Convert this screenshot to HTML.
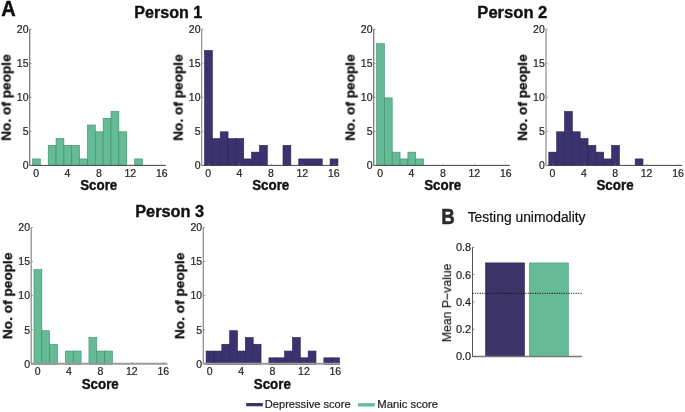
<!DOCTYPE html>
<html><head><meta charset="utf-8"><style>
html,body{margin:0;padding:0;background:#fff;}
body{width:685px;height:412px;overflow:hidden;}
svg{display:block;font-family:"Liberation Sans",sans-serif;-webkit-font-smoothing:antialiased;}
text{will-change:transform;}
</style></head><body>
<svg width="685" height="412" viewBox="0 0 685 412">
<rect width="685" height="412" fill="#fff"/>
<rect x="32.50" y="158.92" width="7.85" height="6.48" fill="#64bb95" stroke="#3f8c69" stroke-width="0.6"/>
<rect x="48.20" y="145.36" width="7.85" height="20.04" fill="#64bb95" stroke="#3f8c69" stroke-width="0.6"/>
<rect x="56.05" y="138.58" width="7.85" height="26.82" fill="#64bb95" stroke="#3f8c69" stroke-width="0.6"/>
<rect x="63.90" y="145.36" width="7.85" height="20.04" fill="#64bb95" stroke="#3f8c69" stroke-width="0.6"/>
<rect x="71.75" y="145.36" width="7.85" height="20.04" fill="#64bb95" stroke="#3f8c69" stroke-width="0.6"/>
<rect x="79.60" y="158.92" width="7.85" height="6.48" fill="#64bb95" stroke="#3f8c69" stroke-width="0.6"/>
<rect x="87.45" y="125.02" width="7.85" height="40.38" fill="#64bb95" stroke="#3f8c69" stroke-width="0.6"/>
<rect x="95.30" y="131.80" width="7.85" height="33.60" fill="#64bb95" stroke="#3f8c69" stroke-width="0.6"/>
<rect x="103.15" y="118.24" width="7.85" height="47.16" fill="#64bb95" stroke="#3f8c69" stroke-width="0.6"/>
<rect x="111.00" y="111.46" width="7.85" height="53.94" fill="#64bb95" stroke="#3f8c69" stroke-width="0.6"/>
<rect x="118.85" y="131.80" width="7.85" height="33.60" fill="#64bb95" stroke="#3f8c69" stroke-width="0.6"/>
<rect x="134.55" y="158.92" width="7.85" height="6.48" fill="#64bb95" stroke="#3f8c69" stroke-width="0.6"/>
<line x1="29.70" y1="29.20" x2="29.70" y2="165.40" stroke="#707070" stroke-width="1.2"/>
<line x1="29.70" y1="165.40" x2="165.95" y2="165.40" stroke="#444" stroke-width="1.0"/>
<line x1="29.70" y1="165.40" x2="31.50" y2="165.40" stroke="#707070" stroke-width="0.8"/>
<text x="28.50" y="169.20" font-size="10.50" font-weight="normal" text-anchor="end" fill="#222" stroke="#222" stroke-width="0.2" >0</text>
<line x1="29.70" y1="131.35" x2="31.50" y2="131.35" stroke="#707070" stroke-width="0.8"/>
<text x="28.50" y="135.15" font-size="10.50" font-weight="normal" text-anchor="end" fill="#222" stroke="#222" stroke-width="0.2" >5</text>
<line x1="29.70" y1="97.30" x2="31.50" y2="97.30" stroke="#707070" stroke-width="0.8"/>
<text x="28.50" y="101.10" font-size="10.50" font-weight="normal" text-anchor="end" fill="#222" stroke="#222" stroke-width="0.2" >10</text>
<line x1="29.70" y1="63.25" x2="31.50" y2="63.25" stroke="#707070" stroke-width="0.8"/>
<text x="28.50" y="67.05" font-size="10.50" font-weight="normal" text-anchor="end" fill="#222" stroke="#222" stroke-width="0.2" >15</text>
<line x1="29.70" y1="29.20" x2="31.50" y2="29.20" stroke="#707070" stroke-width="0.8"/>
<text x="28.50" y="33.00" font-size="10.50" font-weight="normal" text-anchor="end" fill="#222" stroke="#222" stroke-width="0.2" >20</text>
<line x1="36.42" y1="165.40" x2="36.42" y2="163.80" stroke="#888" stroke-width="0.6"/>
<text x="36.12" y="176.80" font-size="10.50" font-weight="normal" text-anchor="middle" fill="#222" stroke="#222" stroke-width="0.2" >0</text>
<line x1="67.82" y1="165.40" x2="67.82" y2="163.80" stroke="#888" stroke-width="0.6"/>
<text x="67.52" y="176.80" font-size="10.50" font-weight="normal" text-anchor="middle" fill="#222" stroke="#222" stroke-width="0.2" >4</text>
<line x1="99.22" y1="165.40" x2="99.22" y2="163.80" stroke="#888" stroke-width="0.6"/>
<text x="98.92" y="176.80" font-size="10.50" font-weight="normal" text-anchor="middle" fill="#222" stroke="#222" stroke-width="0.2" >8</text>
<line x1="130.62" y1="165.40" x2="130.62" y2="163.80" stroke="#888" stroke-width="0.6"/>
<text x="130.32" y="176.80" font-size="10.50" font-weight="normal" text-anchor="middle" fill="#222" stroke="#222" stroke-width="0.2" >12</text>
<line x1="162.03" y1="165.40" x2="162.03" y2="163.80" stroke="#888" stroke-width="0.6"/>
<text x="161.72" y="176.80" font-size="10.50" font-weight="normal" text-anchor="middle" fill="#222" stroke="#222" stroke-width="0.2" >16</text>
<text x="80.17" y="190.20" font-size="13.76" font-weight="bold" fill="#111" textLength="37.11" lengthAdjust="spacingAndGlyphs" stroke="#111" stroke-width="0.35">Score</text>
<text x="0" y="0" font-size="13.60" font-weight="bold" fill="#111" stroke="#111" stroke-width="0.3" textLength="86.48" lengthAdjust="spacingAndGlyphs" transform="translate(10.60,140.77) rotate(-90)">No. of people</text>
<rect x="204.50" y="50.44" width="7.85" height="114.96" fill="#3b3370" stroke="#2a2452" stroke-width="0.6"/>
<rect x="212.35" y="138.58" width="7.85" height="26.82" fill="#3b3370" stroke="#2a2452" stroke-width="0.6"/>
<rect x="220.20" y="131.80" width="7.85" height="33.60" fill="#3b3370" stroke="#2a2452" stroke-width="0.6"/>
<rect x="228.05" y="138.58" width="7.85" height="26.82" fill="#3b3370" stroke="#2a2452" stroke-width="0.6"/>
<rect x="235.90" y="138.58" width="7.85" height="26.82" fill="#3b3370" stroke="#2a2452" stroke-width="0.6"/>
<rect x="243.75" y="158.92" width="7.85" height="6.48" fill="#3b3370" stroke="#2a2452" stroke-width="0.6"/>
<rect x="251.60" y="152.14" width="7.85" height="13.26" fill="#3b3370" stroke="#2a2452" stroke-width="0.6"/>
<rect x="259.45" y="145.36" width="7.85" height="20.04" fill="#3b3370" stroke="#2a2452" stroke-width="0.6"/>
<rect x="283.00" y="145.36" width="7.85" height="20.04" fill="#3b3370" stroke="#2a2452" stroke-width="0.6"/>
<rect x="298.70" y="158.92" width="7.85" height="6.48" fill="#3b3370" stroke="#2a2452" stroke-width="0.6"/>
<rect x="306.55" y="158.92" width="7.85" height="6.48" fill="#3b3370" stroke="#2a2452" stroke-width="0.6"/>
<rect x="314.40" y="158.92" width="7.85" height="6.48" fill="#3b3370" stroke="#2a2452" stroke-width="0.6"/>
<rect x="330.10" y="158.92" width="7.85" height="6.48" fill="#3b3370" stroke="#2a2452" stroke-width="0.6"/>
<line x1="201.70" y1="29.20" x2="201.70" y2="165.40" stroke="#8a8a9a" stroke-width="1.2"/>
<line x1="201.70" y1="165.40" x2="337.95" y2="165.40" stroke="#444" stroke-width="1.0"/>
<line x1="201.70" y1="165.40" x2="203.50" y2="165.40" stroke="#8a8a9a" stroke-width="0.8"/>
<text x="200.50" y="169.20" font-size="10.50" font-weight="normal" text-anchor="end" fill="#222" stroke="#222" stroke-width="0.2" >0</text>
<line x1="201.70" y1="131.35" x2="203.50" y2="131.35" stroke="#8a8a9a" stroke-width="0.8"/>
<text x="200.50" y="135.15" font-size="10.50" font-weight="normal" text-anchor="end" fill="#222" stroke="#222" stroke-width="0.2" >5</text>
<line x1="201.70" y1="97.30" x2="203.50" y2="97.30" stroke="#8a8a9a" stroke-width="0.8"/>
<text x="200.50" y="101.10" font-size="10.50" font-weight="normal" text-anchor="end" fill="#222" stroke="#222" stroke-width="0.2" >10</text>
<line x1="201.70" y1="63.25" x2="203.50" y2="63.25" stroke="#8a8a9a" stroke-width="0.8"/>
<text x="200.50" y="67.05" font-size="10.50" font-weight="normal" text-anchor="end" fill="#222" stroke="#222" stroke-width="0.2" >15</text>
<line x1="201.70" y1="29.20" x2="203.50" y2="29.20" stroke="#8a8a9a" stroke-width="0.8"/>
<text x="200.50" y="33.00" font-size="10.50" font-weight="normal" text-anchor="end" fill="#222" stroke="#222" stroke-width="0.2" >20</text>
<line x1="208.43" y1="165.40" x2="208.43" y2="163.80" stroke="#888" stroke-width="0.6"/>
<text x="208.12" y="176.80" font-size="10.50" font-weight="normal" text-anchor="middle" fill="#222" stroke="#222" stroke-width="0.2" >0</text>
<line x1="239.82" y1="165.40" x2="239.82" y2="163.80" stroke="#888" stroke-width="0.6"/>
<text x="239.52" y="176.80" font-size="10.50" font-weight="normal" text-anchor="middle" fill="#222" stroke="#222" stroke-width="0.2" >4</text>
<line x1="271.23" y1="165.40" x2="271.23" y2="163.80" stroke="#888" stroke-width="0.6"/>
<text x="270.93" y="176.80" font-size="10.50" font-weight="normal" text-anchor="middle" fill="#222" stroke="#222" stroke-width="0.2" >8</text>
<line x1="302.62" y1="165.40" x2="302.62" y2="163.80" stroke="#888" stroke-width="0.6"/>
<text x="302.32" y="176.80" font-size="10.50" font-weight="normal" text-anchor="middle" fill="#222" stroke="#222" stroke-width="0.2" >12</text>
<line x1="334.02" y1="165.40" x2="334.02" y2="163.80" stroke="#888" stroke-width="0.6"/>
<text x="333.72" y="176.80" font-size="10.50" font-weight="normal" text-anchor="middle" fill="#222" stroke="#222" stroke-width="0.2" >16</text>
<text x="252.17" y="190.20" font-size="13.76" font-weight="bold" fill="#111" textLength="37.11" lengthAdjust="spacingAndGlyphs" stroke="#111" stroke-width="0.35">Score</text>
<text x="0" y="0" font-size="13.60" font-weight="bold" fill="#111" stroke="#111" stroke-width="0.3" textLength="86.48" lengthAdjust="spacingAndGlyphs" transform="translate(182.60,140.77) rotate(-90)">No. of people</text>
<rect x="376.50" y="43.66" width="7.85" height="121.74" fill="#64bb95" stroke="#3f8c69" stroke-width="0.6"/>
<rect x="384.35" y="97.90" width="7.85" height="67.50" fill="#64bb95" stroke="#3f8c69" stroke-width="0.6"/>
<rect x="392.20" y="152.14" width="7.85" height="13.26" fill="#64bb95" stroke="#3f8c69" stroke-width="0.6"/>
<rect x="400.05" y="158.92" width="7.85" height="6.48" fill="#64bb95" stroke="#3f8c69" stroke-width="0.6"/>
<rect x="407.90" y="152.14" width="7.85" height="13.26" fill="#64bb95" stroke="#3f8c69" stroke-width="0.6"/>
<rect x="415.75" y="158.92" width="7.85" height="6.48" fill="#64bb95" stroke="#3f8c69" stroke-width="0.6"/>
<line x1="373.70" y1="29.20" x2="373.70" y2="165.40" stroke="#707070" stroke-width="1.2"/>
<line x1="373.70" y1="165.40" x2="509.95" y2="165.40" stroke="#444" stroke-width="1.0"/>
<line x1="373.70" y1="165.40" x2="375.50" y2="165.40" stroke="#707070" stroke-width="0.8"/>
<text x="372.50" y="169.20" font-size="10.50" font-weight="normal" text-anchor="end" fill="#222" stroke="#222" stroke-width="0.2" >0</text>
<line x1="373.70" y1="131.35" x2="375.50" y2="131.35" stroke="#707070" stroke-width="0.8"/>
<text x="372.50" y="135.15" font-size="10.50" font-weight="normal" text-anchor="end" fill="#222" stroke="#222" stroke-width="0.2" >5</text>
<line x1="373.70" y1="97.30" x2="375.50" y2="97.30" stroke="#707070" stroke-width="0.8"/>
<text x="372.50" y="101.10" font-size="10.50" font-weight="normal" text-anchor="end" fill="#222" stroke="#222" stroke-width="0.2" >10</text>
<line x1="373.70" y1="63.25" x2="375.50" y2="63.25" stroke="#707070" stroke-width="0.8"/>
<text x="372.50" y="67.05" font-size="10.50" font-weight="normal" text-anchor="end" fill="#222" stroke="#222" stroke-width="0.2" >15</text>
<line x1="373.70" y1="29.20" x2="375.50" y2="29.20" stroke="#707070" stroke-width="0.8"/>
<text x="372.50" y="33.00" font-size="10.50" font-weight="normal" text-anchor="end" fill="#222" stroke="#222" stroke-width="0.2" >20</text>
<line x1="380.43" y1="165.40" x2="380.43" y2="163.80" stroke="#888" stroke-width="0.6"/>
<text x="380.12" y="176.80" font-size="10.50" font-weight="normal" text-anchor="middle" fill="#222" stroke="#222" stroke-width="0.2" >0</text>
<line x1="411.82" y1="165.40" x2="411.82" y2="163.80" stroke="#888" stroke-width="0.6"/>
<text x="411.52" y="176.80" font-size="10.50" font-weight="normal" text-anchor="middle" fill="#222" stroke="#222" stroke-width="0.2" >4</text>
<line x1="443.23" y1="165.40" x2="443.23" y2="163.80" stroke="#888" stroke-width="0.6"/>
<text x="442.93" y="176.80" font-size="10.50" font-weight="normal" text-anchor="middle" fill="#222" stroke="#222" stroke-width="0.2" >8</text>
<line x1="474.62" y1="165.40" x2="474.62" y2="163.80" stroke="#888" stroke-width="0.6"/>
<text x="474.32" y="176.80" font-size="10.50" font-weight="normal" text-anchor="middle" fill="#222" stroke="#222" stroke-width="0.2" >12</text>
<line x1="506.02" y1="165.40" x2="506.02" y2="163.80" stroke="#888" stroke-width="0.6"/>
<text x="505.72" y="176.80" font-size="10.50" font-weight="normal" text-anchor="middle" fill="#222" stroke="#222" stroke-width="0.2" >16</text>
<text x="424.17" y="190.20" font-size="13.76" font-weight="bold" fill="#111" textLength="37.11" lengthAdjust="spacingAndGlyphs" stroke="#111" stroke-width="0.35">Score</text>
<text x="0" y="0" font-size="13.60" font-weight="bold" fill="#111" stroke="#111" stroke-width="0.3" textLength="86.48" lengthAdjust="spacingAndGlyphs" transform="translate(354.60,140.77) rotate(-90)">No. of people</text>
<rect x="548.80" y="152.14" width="7.85" height="13.26" fill="#3b3370" stroke="#2a2452" stroke-width="0.6"/>
<rect x="556.65" y="131.80" width="7.85" height="33.60" fill="#3b3370" stroke="#2a2452" stroke-width="0.6"/>
<rect x="564.50" y="111.46" width="7.85" height="53.94" fill="#3b3370" stroke="#2a2452" stroke-width="0.6"/>
<rect x="572.35" y="131.80" width="7.85" height="33.60" fill="#3b3370" stroke="#2a2452" stroke-width="0.6"/>
<rect x="580.20" y="138.58" width="7.85" height="26.82" fill="#3b3370" stroke="#2a2452" stroke-width="0.6"/>
<rect x="588.05" y="145.36" width="7.85" height="20.04" fill="#3b3370" stroke="#2a2452" stroke-width="0.6"/>
<rect x="595.90" y="152.14" width="7.85" height="13.26" fill="#3b3370" stroke="#2a2452" stroke-width="0.6"/>
<rect x="603.75" y="158.92" width="7.85" height="6.48" fill="#3b3370" stroke="#2a2452" stroke-width="0.6"/>
<rect x="611.60" y="145.36" width="7.85" height="20.04" fill="#3b3370" stroke="#2a2452" stroke-width="0.6"/>
<rect x="635.15" y="158.92" width="7.85" height="6.48" fill="#3b3370" stroke="#2a2452" stroke-width="0.6"/>
<line x1="546.00" y1="29.20" x2="546.00" y2="165.40" stroke="#8a8a9a" stroke-width="1.2"/>
<line x1="546.00" y1="165.40" x2="682.25" y2="165.40" stroke="#444" stroke-width="1.0"/>
<line x1="546.00" y1="165.40" x2="547.80" y2="165.40" stroke="#8a8a9a" stroke-width="0.8"/>
<text x="544.80" y="169.20" font-size="10.50" font-weight="normal" text-anchor="end" fill="#222" stroke="#222" stroke-width="0.2" >0</text>
<line x1="546.00" y1="131.35" x2="547.80" y2="131.35" stroke="#8a8a9a" stroke-width="0.8"/>
<text x="544.80" y="135.15" font-size="10.50" font-weight="normal" text-anchor="end" fill="#222" stroke="#222" stroke-width="0.2" >5</text>
<line x1="546.00" y1="97.30" x2="547.80" y2="97.30" stroke="#8a8a9a" stroke-width="0.8"/>
<text x="544.80" y="101.10" font-size="10.50" font-weight="normal" text-anchor="end" fill="#222" stroke="#222" stroke-width="0.2" >10</text>
<line x1="546.00" y1="63.25" x2="547.80" y2="63.25" stroke="#8a8a9a" stroke-width="0.8"/>
<text x="544.80" y="67.05" font-size="10.50" font-weight="normal" text-anchor="end" fill="#222" stroke="#222" stroke-width="0.2" >15</text>
<line x1="546.00" y1="29.20" x2="547.80" y2="29.20" stroke="#8a8a9a" stroke-width="0.8"/>
<text x="544.80" y="33.00" font-size="10.50" font-weight="normal" text-anchor="end" fill="#222" stroke="#222" stroke-width="0.2" >20</text>
<line x1="552.72" y1="165.40" x2="552.72" y2="163.80" stroke="#888" stroke-width="0.6"/>
<text x="552.42" y="176.80" font-size="10.50" font-weight="normal" text-anchor="middle" fill="#222" stroke="#222" stroke-width="0.2" >0</text>
<line x1="584.12" y1="165.40" x2="584.12" y2="163.80" stroke="#888" stroke-width="0.6"/>
<text x="583.83" y="176.80" font-size="10.50" font-weight="normal" text-anchor="middle" fill="#222" stroke="#222" stroke-width="0.2" >4</text>
<line x1="615.52" y1="165.40" x2="615.52" y2="163.80" stroke="#888" stroke-width="0.6"/>
<text x="615.23" y="176.80" font-size="10.50" font-weight="normal" text-anchor="middle" fill="#222" stroke="#222" stroke-width="0.2" >8</text>
<line x1="646.92" y1="165.40" x2="646.92" y2="163.80" stroke="#888" stroke-width="0.6"/>
<text x="646.62" y="176.80" font-size="10.50" font-weight="normal" text-anchor="middle" fill="#222" stroke="#222" stroke-width="0.2" >12</text>
<line x1="678.32" y1="165.40" x2="678.32" y2="163.80" stroke="#888" stroke-width="0.6"/>
<text x="678.02" y="176.80" font-size="10.50" font-weight="normal" text-anchor="middle" fill="#222" stroke="#222" stroke-width="0.2" >16</text>
<text x="596.47" y="190.20" font-size="13.76" font-weight="bold" fill="#111" textLength="37.11" lengthAdjust="spacingAndGlyphs" stroke="#111" stroke-width="0.35">Score</text>
<text x="0" y="0" font-size="13.60" font-weight="bold" fill="#111" stroke="#111" stroke-width="0.3" textLength="86.48" lengthAdjust="spacingAndGlyphs" transform="translate(526.90,140.77) rotate(-90)">No. of people</text>
<rect x="34.00" y="269.68" width="7.85" height="94.62" fill="#64bb95" stroke="#3f8c69" stroke-width="0.6"/>
<rect x="41.85" y="330.70" width="7.85" height="33.60" fill="#64bb95" stroke="#3f8c69" stroke-width="0.6"/>
<rect x="49.70" y="344.26" width="7.85" height="20.04" fill="#64bb95" stroke="#3f8c69" stroke-width="0.6"/>
<rect x="65.40" y="351.04" width="7.85" height="13.26" fill="#64bb95" stroke="#3f8c69" stroke-width="0.6"/>
<rect x="73.25" y="351.04" width="7.85" height="13.26" fill="#64bb95" stroke="#3f8c69" stroke-width="0.6"/>
<rect x="88.95" y="337.48" width="7.85" height="26.82" fill="#64bb95" stroke="#3f8c69" stroke-width="0.6"/>
<rect x="96.80" y="351.04" width="7.85" height="13.26" fill="#64bb95" stroke="#3f8c69" stroke-width="0.6"/>
<rect x="104.65" y="351.04" width="7.85" height="13.26" fill="#64bb95" stroke="#3f8c69" stroke-width="0.6"/>
<line x1="31.20" y1="227.50" x2="31.20" y2="363.80" stroke="#888" stroke-width="1.2"/>
<line x1="31.20" y1="363.80" x2="167.45" y2="363.80" stroke="#9a9a9a" stroke-width="2.0"/>
<line x1="31.20" y1="363.80" x2="33.00" y2="363.80" stroke="#888" stroke-width="0.8"/>
<text x="30.00" y="367.60" font-size="10.50" font-weight="normal" text-anchor="end" fill="#222" stroke="#222" stroke-width="0.2" >0</text>
<line x1="31.20" y1="329.73" x2="33.00" y2="329.73" stroke="#888" stroke-width="0.8"/>
<text x="30.00" y="333.53" font-size="10.50" font-weight="normal" text-anchor="end" fill="#222" stroke="#222" stroke-width="0.2" >5</text>
<line x1="31.20" y1="295.65" x2="33.00" y2="295.65" stroke="#888" stroke-width="0.8"/>
<text x="30.00" y="299.45" font-size="10.50" font-weight="normal" text-anchor="end" fill="#222" stroke="#222" stroke-width="0.2" >10</text>
<line x1="31.20" y1="261.57" x2="33.00" y2="261.57" stroke="#888" stroke-width="0.8"/>
<text x="30.00" y="265.38" font-size="10.50" font-weight="normal" text-anchor="end" fill="#222" stroke="#222" stroke-width="0.2" >15</text>
<line x1="31.20" y1="227.50" x2="33.00" y2="227.50" stroke="#888" stroke-width="0.8"/>
<text x="30.00" y="231.30" font-size="10.50" font-weight="normal" text-anchor="end" fill="#222" stroke="#222" stroke-width="0.2" >20</text>
<line x1="37.92" y1="363.80" x2="37.92" y2="362.20" stroke="#888" stroke-width="0.6"/>
<text x="37.62" y="375.20" font-size="10.50" font-weight="normal" text-anchor="middle" fill="#222" stroke="#222" stroke-width="0.2" >0</text>
<line x1="69.32" y1="363.80" x2="69.32" y2="362.20" stroke="#888" stroke-width="0.6"/>
<text x="69.02" y="375.20" font-size="10.50" font-weight="normal" text-anchor="middle" fill="#222" stroke="#222" stroke-width="0.2" >4</text>
<line x1="100.72" y1="363.80" x2="100.72" y2="362.20" stroke="#888" stroke-width="0.6"/>
<text x="100.42" y="375.20" font-size="10.50" font-weight="normal" text-anchor="middle" fill="#222" stroke="#222" stroke-width="0.2" >8</text>
<line x1="132.12" y1="363.80" x2="132.12" y2="362.20" stroke="#888" stroke-width="0.6"/>
<text x="131.82" y="375.20" font-size="10.50" font-weight="normal" text-anchor="middle" fill="#222" stroke="#222" stroke-width="0.2" >12</text>
<line x1="163.53" y1="363.80" x2="163.53" y2="362.20" stroke="#888" stroke-width="0.6"/>
<text x="163.22" y="375.20" font-size="10.50" font-weight="normal" text-anchor="middle" fill="#222" stroke="#222" stroke-width="0.2" >16</text>
<text x="81.67" y="388.60" font-size="13.76" font-weight="bold" fill="#111" textLength="37.11" lengthAdjust="spacingAndGlyphs" stroke="#111" stroke-width="0.35">Score</text>
<text x="0" y="0" font-size="13.60" font-weight="bold" fill="#111" stroke="#111" stroke-width="0.3" textLength="86.48" lengthAdjust="spacingAndGlyphs" transform="translate(12.10,339.12) rotate(-90)">No. of people</text>
<rect x="206.10" y="351.04" width="7.85" height="13.26" fill="#3b3370" stroke="#2a2452" stroke-width="0.6"/>
<rect x="213.95" y="351.04" width="7.85" height="13.26" fill="#3b3370" stroke="#2a2452" stroke-width="0.6"/>
<rect x="221.80" y="344.26" width="7.85" height="20.04" fill="#3b3370" stroke="#2a2452" stroke-width="0.6"/>
<rect x="229.65" y="330.70" width="7.85" height="33.60" fill="#3b3370" stroke="#2a2452" stroke-width="0.6"/>
<rect x="237.50" y="351.04" width="7.85" height="13.26" fill="#3b3370" stroke="#2a2452" stroke-width="0.6"/>
<rect x="245.35" y="337.48" width="7.85" height="26.82" fill="#3b3370" stroke="#2a2452" stroke-width="0.6"/>
<rect x="253.20" y="344.26" width="7.85" height="20.04" fill="#3b3370" stroke="#2a2452" stroke-width="0.6"/>
<rect x="268.90" y="357.82" width="7.85" height="6.48" fill="#3b3370" stroke="#2a2452" stroke-width="0.6"/>
<rect x="276.75" y="357.82" width="7.85" height="6.48" fill="#3b3370" stroke="#2a2452" stroke-width="0.6"/>
<rect x="284.60" y="351.04" width="7.85" height="13.26" fill="#3b3370" stroke="#2a2452" stroke-width="0.6"/>
<rect x="292.45" y="337.48" width="7.85" height="26.82" fill="#3b3370" stroke="#2a2452" stroke-width="0.6"/>
<rect x="300.30" y="357.82" width="7.85" height="6.48" fill="#3b3370" stroke="#2a2452" stroke-width="0.6"/>
<rect x="308.15" y="351.04" width="7.85" height="13.26" fill="#3b3370" stroke="#2a2452" stroke-width="0.6"/>
<rect x="323.85" y="357.82" width="7.85" height="6.48" fill="#3b3370" stroke="#2a2452" stroke-width="0.6"/>
<rect x="331.70" y="357.82" width="7.85" height="6.48" fill="#3b3370" stroke="#2a2452" stroke-width="0.6"/>
<line x1="203.30" y1="227.50" x2="203.30" y2="363.80" stroke="#888" stroke-width="1.2"/>
<line x1="203.30" y1="363.80" x2="339.55" y2="363.80" stroke="#9a9a9a" stroke-width="2.0"/>
<line x1="203.30" y1="363.80" x2="205.10" y2="363.80" stroke="#888" stroke-width="0.8"/>
<text x="202.10" y="367.60" font-size="10.50" font-weight="normal" text-anchor="end" fill="#222" stroke="#222" stroke-width="0.2" >0</text>
<line x1="203.30" y1="329.73" x2="205.10" y2="329.73" stroke="#888" stroke-width="0.8"/>
<text x="202.10" y="333.53" font-size="10.50" font-weight="normal" text-anchor="end" fill="#222" stroke="#222" stroke-width="0.2" >5</text>
<line x1="203.30" y1="295.65" x2="205.10" y2="295.65" stroke="#888" stroke-width="0.8"/>
<text x="202.10" y="299.45" font-size="10.50" font-weight="normal" text-anchor="end" fill="#222" stroke="#222" stroke-width="0.2" >10</text>
<line x1="203.30" y1="261.57" x2="205.10" y2="261.57" stroke="#888" stroke-width="0.8"/>
<text x="202.10" y="265.38" font-size="10.50" font-weight="normal" text-anchor="end" fill="#222" stroke="#222" stroke-width="0.2" >15</text>
<line x1="203.30" y1="227.50" x2="205.10" y2="227.50" stroke="#888" stroke-width="0.8"/>
<text x="202.10" y="231.30" font-size="10.50" font-weight="normal" text-anchor="end" fill="#222" stroke="#222" stroke-width="0.2" >20</text>
<line x1="210.03" y1="363.80" x2="210.03" y2="362.20" stroke="#888" stroke-width="0.6"/>
<text x="209.73" y="375.20" font-size="10.50" font-weight="normal" text-anchor="middle" fill="#222" stroke="#222" stroke-width="0.2" >0</text>
<line x1="241.43" y1="363.80" x2="241.43" y2="362.20" stroke="#888" stroke-width="0.6"/>
<text x="241.12" y="375.20" font-size="10.50" font-weight="normal" text-anchor="middle" fill="#222" stroke="#222" stroke-width="0.2" >4</text>
<line x1="272.83" y1="363.80" x2="272.83" y2="362.20" stroke="#888" stroke-width="0.6"/>
<text x="272.53" y="375.20" font-size="10.50" font-weight="normal" text-anchor="middle" fill="#222" stroke="#222" stroke-width="0.2" >8</text>
<line x1="304.23" y1="363.80" x2="304.23" y2="362.20" stroke="#888" stroke-width="0.6"/>
<text x="303.93" y="375.20" font-size="10.50" font-weight="normal" text-anchor="middle" fill="#222" stroke="#222" stroke-width="0.2" >12</text>
<line x1="335.62" y1="363.80" x2="335.62" y2="362.20" stroke="#888" stroke-width="0.6"/>
<text x="335.32" y="375.20" font-size="10.50" font-weight="normal" text-anchor="middle" fill="#222" stroke="#222" stroke-width="0.2" >16</text>
<text x="253.77" y="388.60" font-size="13.76" font-weight="bold" fill="#111" textLength="37.11" lengthAdjust="spacingAndGlyphs" stroke="#111" stroke-width="0.35">Score</text>
<text x="0" y="0" font-size="13.60" font-weight="bold" fill="#111" stroke="#111" stroke-width="0.3" textLength="86.48" lengthAdjust="spacingAndGlyphs" transform="translate(184.20,339.12) rotate(-90)">No. of people</text>
<text x="134.29" y="17.90" font-size="16.00" font-weight="bold" fill="#111" textLength="68.01" lengthAdjust="spacingAndGlyphs" stroke="#111" stroke-width="0.35">Person 1</text>
<text x="477.36" y="17.90" font-size="16.00" font-weight="bold" fill="#111" textLength="69.96" lengthAdjust="spacingAndGlyphs" stroke="#111" stroke-width="0.35">Person 2</text>
<text x="135.17" y="216.70" font-size="15.71" font-weight="bold" fill="#111" textLength="69.05" lengthAdjust="spacingAndGlyphs" stroke="#111" stroke-width="0.35">Person 3</text>
<text x="1.15" y="16.20" font-size="21.67" font-weight="bold" fill="#111" textLength="14.44" lengthAdjust="spacingAndGlyphs" stroke="#111" stroke-width="0.5">A</text>
<text x="441.19" y="224.30" font-size="21.96" font-weight="bold" fill="#2a2a2a" textLength="13.50" lengthAdjust="spacingAndGlyphs" stroke="#2a2a2a" stroke-width="0.5">B</text>
<text x="467.69" y="221.70" font-size="14.40" font-weight="normal" fill="#111" textLength="117.84" lengthAdjust="spacingAndGlyphs" stroke="#111" stroke-width="0.2">Testing unimodality</text>
<rect x="485.6" y="262.9" width="38.9" height="93.60" fill="#3c3366" stroke="#2a2450" stroke-width="0.6"/>
<rect x="529.4" y="262.9" width="39.1" height="93.60" fill="#64bb95" stroke="#4f9c7a" stroke-width="0.6"/>
<line x1="472.5" y1="247.3" x2="472.5" y2="356.5" stroke="#555" stroke-width="1"/>
<line x1="472.5" y1="356.5" x2="581.8" y2="356.5" stroke="#777" stroke-width="1.3"/>
<line x1="472.5" y1="356.50" x2="474.3" y2="356.50" stroke="#555" stroke-width="0.8"/>
<text x="471.20" y="360.40" font-size="11.00" font-weight="normal" text-anchor="end" fill="#222" stroke="#222" stroke-width="0.2" >0.0</text>
<line x1="472.5" y1="329.20" x2="474.3" y2="329.20" stroke="#555" stroke-width="0.8"/>
<text x="471.20" y="333.10" font-size="11.00" font-weight="normal" text-anchor="end" fill="#222" stroke="#222" stroke-width="0.2" >0.2</text>
<line x1="472.5" y1="301.90" x2="474.3" y2="301.90" stroke="#555" stroke-width="0.8"/>
<text x="471.20" y="305.80" font-size="11.00" font-weight="normal" text-anchor="end" fill="#222" stroke="#222" stroke-width="0.2" >0.4</text>
<line x1="472.5" y1="274.60" x2="474.3" y2="274.60" stroke="#555" stroke-width="0.8"/>
<text x="471.20" y="278.50" font-size="11.00" font-weight="normal" text-anchor="end" fill="#222" stroke="#222" stroke-width="0.2" >0.6</text>
<line x1="472.5" y1="247.30" x2="474.3" y2="247.30" stroke="#555" stroke-width="0.8"/>
<text x="471.20" y="251.20" font-size="11.00" font-weight="normal" text-anchor="end" fill="#222" stroke="#222" stroke-width="0.2" >0.8</text>
<line x1="472.5" y1="293.3" x2="582" y2="293.3" stroke="#111" stroke-width="1" stroke-dasharray="1.2 1.2"/>
<text x="0" y="0" font-size="11.90" font-weight="normal" fill="#1a1a1a" stroke="#1a1a1a" stroke-width="0.15" textLength="78.64" lengthAdjust="spacingAndGlyphs" transform="translate(451.10,342.21) rotate(-90)">Mean P−value</text>
<rect x="246.2" y="403.0" width="16.6" height="3.3" fill="#3c3366"/>
<text x="264.78" y="407.80" font-size="10.47" font-weight="normal" fill="#222" textLength="85.89" lengthAdjust="spacingAndGlyphs" stroke="#222" stroke-width="0.2">Depressive score</text>
<rect x="358.0" y="403.2" width="16.8" height="3.3" fill="#64bb95"/>
<text x="377.27" y="407.80" font-size="10.47" font-weight="normal" fill="#222" textLength="60.82" lengthAdjust="spacingAndGlyphs" stroke="#222" stroke-width="0.2">Manic score</text>
</svg>
</body></html>
